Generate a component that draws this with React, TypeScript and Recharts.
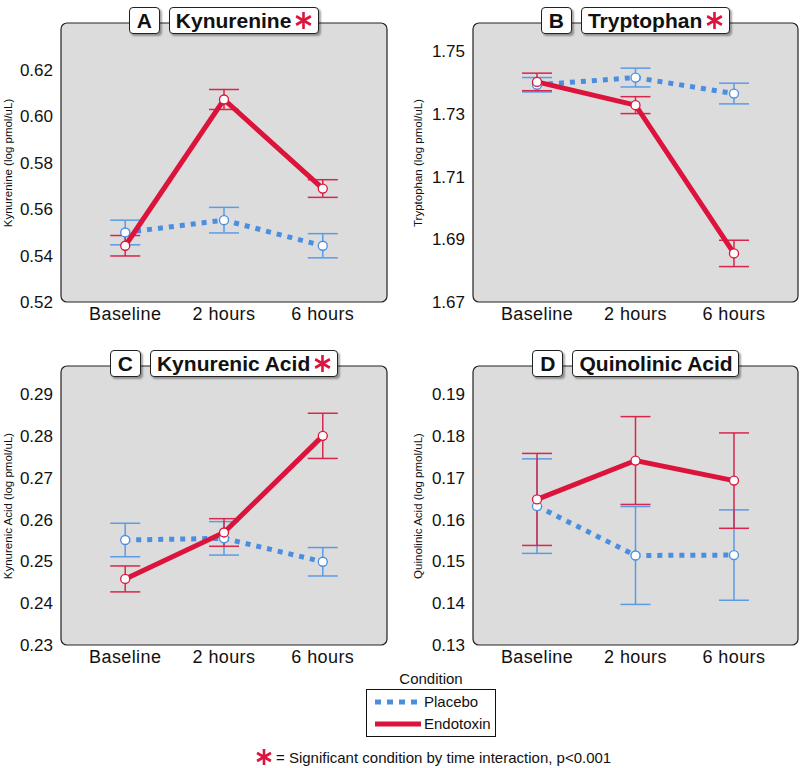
import React from 'react';
import { LineChart, Line, XAxis, YAxis, ErrorBar, ReferenceArea } from 'recharts';

const timePoints = ['Baseline', '2 hours', '6 hours'];

// A: Kynurenine
const kynPlacebo = [0.5499, 0.5552, 0.5442];
const kynPlaceboErr = [0.0053, 0.0055, 0.0052];
const kynEndotoxin = [0.5442, 0.6071, 0.5688];
const kynEndotoxinErr = [0.0044, 0.0043, 0.0038];
const kynTicks = [0.52, 0.54, 0.56, 0.58, 0.6, 0.62];

// B: Tryptophan
const trpPlacebo = [1.7393, 1.7416, 1.7365];
const trpPlaceboErr = [0.0023, 0.003, 0.0033];
const trpEndotoxin = [1.7402, 1.7328, 1.6855];
const trpEndotoxinErr = [0.0028, 0.0027, 0.0042];
const trpTicks = [1.67, 1.69, 1.71, 1.73, 1.75];

// C: Kynurenic Acid
const kaPlacebo = [0.2551, 0.2555, 0.2499];
const kaPlaceboErr = [0.004, 0.004, 0.0034];
const kaEndotoxin = [0.2458, 0.2569, 0.28];
const kaEndotoxinErr = [0.0031, 0.0033, 0.0054];
const kaTicks = [0.23, 0.24, 0.25, 0.26, 0.27, 0.28, 0.29];

// D: Quinolinic Acid
const qaPlacebo = [0.1632, 0.1514, 0.1515];
const qaPlaceboErr = [0.0113, 0.0117, 0.0108];
const qaEndotoxin = [0.1648, 0.1741, 0.1693];
const qaEndotoxinErr = [0.011, 0.0105, 0.0114];
const qaTicks = [0.13, 0.14, 0.15, 0.16, 0.17, 0.18, 0.19];

const RED = '#DC143C';
const RED_ERR = '#D8264C';
const BLUE = '#4A8EE2';
const BLUE_ERR = '#5B9BE6';
const FONT = '"Liberation Sans", Arial, Helvetica, sans-serif';

const X_DOMAIN: [number, number] = [-0.65, 2.65];

const Star = ({ size }: { size: number }) => {
  const c = size / 2;
  const r = size / 2 - 1;
  const arms = [90, 30, -30].map((deg) => {
    const a = (deg * Math.PI) / 180;
    return { dx: r * Math.cos(a), dy: r * Math.sin(a) };
  });
  return (
    <svg width={size} height={size} style={{ display: 'block' }}>
      {arms.map((p, i) => (
        <line key={i} x1={c - p.dx} y1={c - p.dy} x2={c + p.dx} y2={c + p.dy} stroke={RED} strokeWidth={2.6} />
      ))}
    </svg>
  );
};

const boxStyle: React.CSSProperties = {
  background: '#fff',
  border: '1px solid #222',
  borderRadius: 4,
  boxShadow: '2px 2px 2px rgba(0,0,0,0.35)',
  height: 27,
  boxSizing: 'border-box',
  display: 'flex',
  alignItems: 'center',
  fontFamily: FONT,
  fontWeight: 'bold',
  fontSize: 21,
  color: '#111',
};

interface PanelProps {
  letter: string;
  title: string;
  star: boolean;
  yLabel: string;
  placebo: number[];
  placeboErr: number[];
  endotoxin: number[];
  endotoxinErr: number[];
  ticks: number[];
  yMax: number;
  left: number;
  top: number;
  yAxisWidth: number;
  marginTop: number;
  marginRight: number;
  marginBottom: number;
  labelX: number;
}

const W = 400;
const H = 340;
const X_AXIS_H = 30;

const Panel = (p: PanelProps) => {
  const rows = timePoints.map((t, i) => ({
    idx: i,
    time: t,
    placebo: p.placebo[i],
    placeboErr: p.placeboErr[i],
    endotoxin: p.endotoxin[i],
    endotoxinErr: p.endotoxinErr[i],
  }));
  const yMin = p.ticks[0];
  const plotLeft = p.yAxisWidth;
  const plotWidth = W - p.yAxisWidth - p.marginRight;
  const plotTop = p.marginTop;
  const plotBottom = H - p.marginBottom - X_AXIS_H;

  return (
    <div style={{ position: 'absolute', left: p.left, top: p.top, width: W, height: H }}>
      <LineChart
        width={W}
        height={H}
        data={rows}
        margin={{ top: p.marginTop, right: p.marginRight, bottom: p.marginBottom, left: 0 }}
      >
        <XAxis
          type="number"
          dataKey="idx"
          domain={X_DOMAIN}
          ticks={[0, 1, 2]}
          tickFormatter={(v: number) => timePoints[v]}
          axisLine={false}
          tickLine={false}
          tickMargin={-1}
          height={X_AXIS_H}
          tick={{ fill: '#111', fontSize: 18, fontFamily: FONT, letterSpacing: 0.4 }}
        />
        <YAxis
          type="number"
          domain={[yMin, p.yMax]}
          ticks={p.ticks}
          tickFormatter={(v: number) => v.toFixed(2)}
          axisLine={false}
          tickLine={false}
          width={p.yAxisWidth}
          tick={{ fill: '#111', fontSize: 17, fontFamily: FONT }}
        />
        <ReferenceArea
          x1={X_DOMAIN[0]}
          x2={X_DOMAIN[1]}
          y1={yMin}
          y2={p.yMax}
          fill="#DCDCDC"
          fillOpacity={1}
          stroke="#222"
          strokeWidth={1.2}
          radius={6}
          ifOverflow="visible"
        />
        <Line
          dataKey="placebo"
          stroke={BLUE}
          strokeWidth={5}
          strokeDasharray="5 6"
          isAnimationActive={false}
          dot={{ r: 4.5, fill: '#fff', stroke: BLUE, strokeWidth: 1.3, strokeDasharray: '0' }}
        >
          <ErrorBar dataKey="placeboErr" width={15} stroke={BLUE_ERR} strokeWidth={1.5} direction="y" />
        </Line>
        <Line
          dataKey="endotoxin"
          stroke={RED}
          strokeWidth={5}
          isAnimationActive={false}
          dot={{ r: 4.5, fill: '#fff', stroke: RED, strokeWidth: 1.3 }}
        >
          <ErrorBar dataKey="endotoxinErr" width={15} stroke={RED_ERR} strokeWidth={1.5} direction="y" />
        </Line>
      </LineChart>

      <div
        style={{
          position: 'absolute',
          left: p.labelX,
          top: (plotTop + plotBottom) / 2,
          transform: 'translate(-50%, -50%) rotate(-90deg)',
          whiteSpace: 'nowrap',
          fontFamily: FONT,
          fontSize: 11.5,
          color: '#111',
        }}
      >
        {p.yLabel}
      </div>

      <div
        style={{
          position: 'absolute',
          left: plotLeft,
          width: plotWidth,
          top: plotTop - 16,
          display: 'flex',
          justifyContent: 'center',
          gap: 9,
        }}
      >
        <div style={{ ...boxStyle, padding: '0 7px' }}>{p.letter}</div>
        <div style={{ ...boxStyle, padding: '0 5px 0 6px' }}>
          {p.title}
          {p.star && (
            <span style={{ marginLeft: 3 }}>
              <Star size={19} />
            </span>
          )}
        </div>
      </div>
    </div>
  );
};

const Legend = () => (
  <div style={{ position: 'absolute', left: 0, top: 0, width: 800, height: 768, pointerEvents: 'none' }}>
    <div
      style={{
        position: 'absolute',
        left: 431,
        top: 678,
        transform: 'translate(-50%, -50%)',
        fontFamily: FONT,
        fontSize: 15,
        color: '#111',
      }}
    >
      Condition
    </div>
    <div
      style={{
        position: 'absolute',
        left: 366,
        top: 689,
        width: 130,
        height: 48,
        border: '1px solid #111',
        boxSizing: 'border-box',
        fontFamily: FONT,
        fontSize: 15,
        color: '#111',
      }}
    >
      <svg width={130} height={48} style={{ position: 'absolute', left: -1, top: -1 }}>
        <line x1={9} y1={13} x2={55} y2={13} stroke={BLUE} strokeWidth={5} strokeDasharray="6 6" />
        <line x1={9} y1={35} x2={55} y2={35} stroke={RED} strokeWidth={5} />
      </svg>
      <div style={{ position: 'absolute', left: 57, top: 3 }}>Placebo</div>
      <div style={{ position: 'absolute', left: 57, top: 25 }}>Endotoxin</div>
    </div>
    <div
      style={{
        position: 'absolute',
        left: 255,
        top: 748,
        display: 'flex',
        alignItems: 'center',
        fontFamily: FONT,
        fontSize: 15,
        color: '#111',
      }}
    >
      <Star size={18} />
      <span style={{ marginLeft: 3 }}>= Significant condition by time interaction, p&lt;0.001</span>
    </div>
  </div>
);

export default function App() {
  return (
    <div style={{ position: 'absolute', left: 0, top: 0, width: 800, height: 768, background: '#fff' }}>
      <Panel
        letter="A"
        title="Kynurenine"
        star
        yLabel="Kynurenine (log pmol/uL)"
        placebo={kynPlacebo}
        placeboErr={kynPlaceboErr}
        endotoxin={kynEndotoxin}
        endotoxinErr={kynEndotoxinErr}
        ticks={kynTicks}
        yMax={0.64}
        left={0}
        top={0}
        yAxisWidth={61}
        marginTop={23}
        marginRight={13}
        marginBottom={8}
        labelX={8}
      />
      <Panel
        letter="B"
        title="Tryptophan"
        star
        yLabel="Tryptophan (log pmol/uL)"
        placebo={trpPlacebo}
        placeboErr={trpPlaceboErr}
        endotoxin={trpEndotoxin}
        endotoxinErr={trpEndotoxinErr}
        ticks={trpTicks}
        yMax={1.759}
        left={400}
        top={0}
        yAxisWidth={73}
        marginTop={23}
        marginRight={2}
        marginBottom={8}
        labelX={18}
      />
      <Panel
        letter="C"
        title="Kynurenic Acid"
        star
        yLabel="Kynurenic Acid (log pmol/uL)"
        placebo={kaPlacebo}
        placeboErr={kaPlaceboErr}
        endotoxin={kaEndotoxin}
        endotoxinErr={kaEndotoxinErr}
        ticks={kaTicks}
        yMax={0.2967}
        left={0}
        top={340}
        yAxisWidth={61}
        marginTop={26}
        marginRight={13}
        marginBottom={5}
        labelX={8}
      />
      <Panel
        letter="D"
        title="Quinolinic Acid"
        star={false}
        yLabel="Quinolinic Acid (log pmol/uL)"
        placebo={qaPlacebo}
        placeboErr={qaPlaceboErr}
        endotoxin={qaEndotoxin}
        endotoxinErr={qaEndotoxinErr}
        ticks={qaTicks}
        yMax={0.1967}
        left={400}
        top={340}
        yAxisWidth={73}
        marginTop={26}
        marginRight={2}
        marginBottom={5}
        labelX={18}
      />
      <Legend />
    </div>
  );
}
